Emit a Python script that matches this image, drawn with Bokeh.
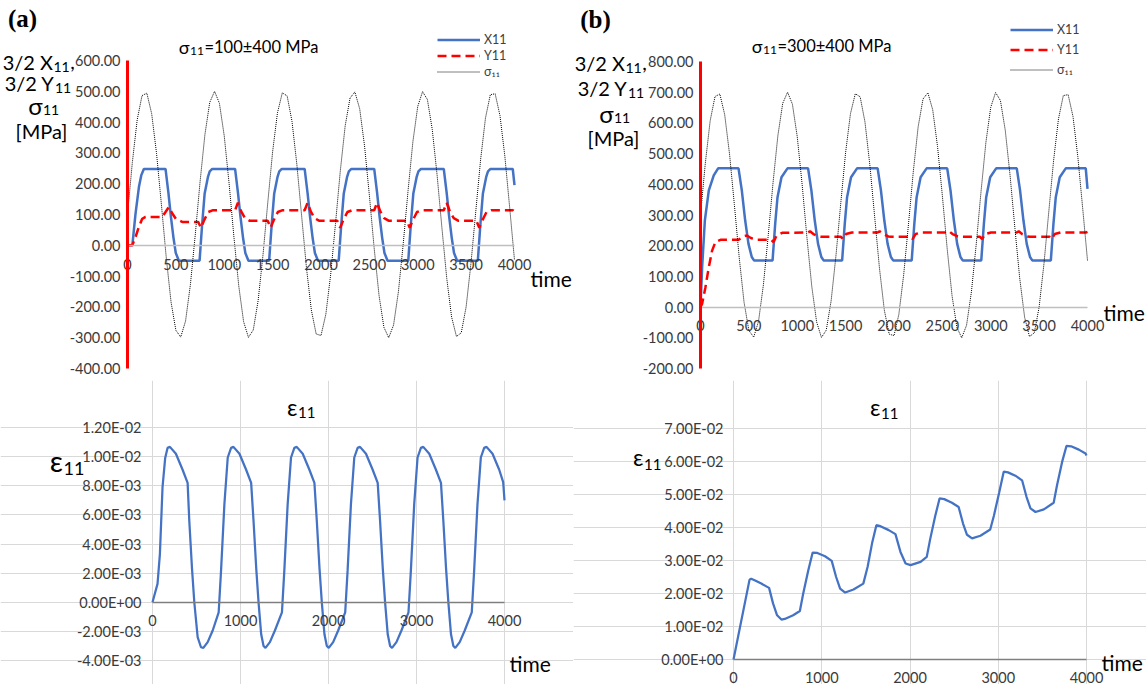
from bokeh.plotting import figure
from bokeh.models import (Range1d, FixedTicker, NumeralTickFormatter, CustomJSTickFormatter,
                          BasicTickFormatter, Label, Legend, LegendItem, Grid)
from bokeh.layouts import column, row
from bokeh.embed import file_html
from bokeh.resources import INLINE

FONT = "Lato"
BLUE = "#4472C4"
RED = "#FF0000"
TICK_COLOR = "#3a3a3a"
TICK_SIZE = "14.5px"

# ------------------------------------------------------------------ data
t_sigma = list(range(0, 4001, 50))
sigma_a = [100, 269, 407, 486, 494, 427, 299, 134, -38, -184,
           -276, -298, -246, -128, 33, 206, 359, 464, 500, 461,
           355, 201, 27, -132, -248, -299, -275, -180, -33, 139,
           304, 430, 495, 485, 403, 264, 95, -74, -210, -288,
           -293, -224, -95, 71, 243, 388, 478, 498, 443, 323,
           162, -11, -163, -266, -300, -259, -151, 5, 178, 337,
           451, 499, 473, 376, 228, 56, -108, -233, -296, -284,
           -200, -59, 111, 279, 413, 489, 492, 421, 290, 123, -48]
sigma_b = [300, 469, 607, 686, 694, 627, 499, 334, 162, 16,
           -76, -98, -46, 72, 233, 406, 559, 664, 700, 661,
           555, 401, 227, 68, -48, -99, -75, 20, 167, 339,
           504, 630, 695, 685, 603, 464, 295, 126, -10, -88,
           -93, -24, 105, 271, 443, 588, 678, 698, 643, 523,
           362, 189, 37, -66, -100, -59, 49, 205, 378, 537,
           651, 699, 673, 576, 428, 256, 92, -33, -96, -84,
           0, 141, 311, 479, 613, 689, 692, 621, 490, 323, 152]

t_x11_a = [0, 50, 83, 118, 142, 169,
           393, 423, 448, 475, 499, 531,
           745, 772, 797, 831, 850, 876,
           1112, 1142, 1167, 1194, 1218, 1250,
           1464, 1491, 1516, 1550, 1569, 1595,
           1831, 1861, 1886, 1913, 1937, 1969,
           2183, 2210, 2235, 2269, 2288, 2314,
           2550, 2580, 2605, 2632, 2656, 2688,
           2902, 2929, 2954, 2988, 3007, 3033,
           3269, 3299, 3324, 3351, 3375, 3407,
           3621, 3648, 3673, 3707, 3726, 3752,
           3982, 4000]
x11_a = [0, 0, 103, 189, 227, 248,
         248, 170, 95, 25, -25, -50,
         -50, 70, 167, 221, 240, 248,
         248, 170, 95, 25, -25, -50,
         -50, 70, 167, 221, 240, 248,
         248, 170, 95, 25, -25, -50,
         -50, 70, 167, 221, 240, 248,
         248, 170, 95, 25, -25, -50,
         -50, 70, 167, 221, 240, 248,
         248, 170, 95, 25, -25, -50,
         -50, 70, 167, 221, 240, 248,
         248, 195]

t_y11_a = [0, 50, 83, 117, 152, 186,
           358, 393, 427, 460, 500, 565,
           730, 760, 790, 835, 885,
           1112, 1141, 1175, 1215, 1260,
           1449, 1479, 1509, 1554, 1604,
           1831, 1861, 1894, 1934, 1979,
           2168, 2198, 2228, 2273, 2323,
           2550, 2580, 2613, 2653, 2698,
           2887, 2917, 2947, 2992, 3042,
           3269, 3299, 3332, 3372, 3417,
           3606, 3636, 3666, 3711, 3761,
           3982, 4000]
y11_a = [0, 0, 27, 59, 86, 92,
         92, 108, 124, 105, 86, 76,
         76, 57, 80, 108, 114,
         114, 138, 110, 88, 80,
         80, 57, 80, 108, 114,
         114, 138, 110, 88, 80,
         80, 57, 80, 108, 114,
         114, 138, 110, 88, 80,
         80, 57, 80, 108, 114,
         114, 138, 110, 88, 80,
         80, 57, 80, 108, 114,
         114, 132]

t_x11_b = [0, 17, 45, 86, 137, 182,
           393, 427, 462, 496, 530, 553,
           745, 772, 796, 837, 899,
           1112, 1146, 1181, 1215, 1249, 1272,
           1464, 1491, 1515, 1556, 1618,
           1831, 1865, 1900, 1934, 1968, 1991,
           2183, 2210, 2234, 2275, 2337,
           2550, 2584, 2619, 2653, 2687, 2710,
           2902, 2929, 2953, 2994, 3056,
           3269, 3303, 3338, 3372, 3406, 3429,
           3621, 3648, 3672, 3713, 3775,
           3982, 4000]
x11_b = [0, 130, 282, 380, 429, 452,
         452, 380, 282, 206, 163, 152,
         152, 271, 358, 423, 452,
         452, 380, 282, 206, 163, 152,
         152, 271, 358, 423, 452,
         452, 380, 282, 206, 163, 152,
         152, 271, 358, 423, 452,
         452, 380, 282, 206, 163, 152,
         152, 271, 358, 423, 452,
         452, 380, 282, 206, 163, 152,
         152, 271, 358, 423, 452,
         452, 385]

t_y11_b = [0, 17, 51, 86, 120, 154, 206,
           393, 440, 480, 520, 583,
           730, 755, 785, 845,
           1112, 1132, 1167, 1222, 1252,
           1449, 1474, 1504, 1564,
           1831, 1851, 1886, 1941, 1971,
           2168, 2193, 2223, 2283,
           2550, 2570, 2605, 2660, 2690,
           2887, 2912, 2942, 3002,
           3269, 3289, 3324, 3379, 3409,
           3606, 3631, 3661, 3721,
           3982, 4000]
y11_b = [0, 11, 65, 130, 184, 212, 219,
         219, 230, 233, 225, 219,
         219, 212, 232, 242,
         243, 247, 238, 230, 229,
         229, 222, 238, 243,
         243, 247, 238, 230, 229,
         229, 222, 238, 243,
         243, 247, 238, 230, 229,
         229, 222, 238, 243,
         243, 247, 238, 230, 229,
         229, 222, 238, 243,
         243, 245]

t_eps_a = [0, 57, 84, 114, 144, 171, 198, 266, 342, 399, 418, 448, 475, 513, 551, 578, 627, 684,
           752, 779, 817, 855, 893, 920, 988, 1064, 1121, 1148, 1178, 1205, 1235, 1262, 1284, 1334, 1391,
           1471, 1498, 1536, 1574, 1612, 1639, 1707, 1783, 1840, 1867, 1897, 1924, 1954, 1981, 2003, 2053, 2110,
           2190, 2217, 2255, 2293, 2331, 2358, 2426, 2502, 2559, 2586, 2616, 2643, 2673, 2700, 2722, 2772, 2829,
           2909, 2936, 2974, 3012, 3050, 3077, 3145, 3221, 3278, 3305, 3335, 3362, 3392, 3419, 3441, 3491, 3548,
           3628, 3655, 3693, 3731, 3769, 3796, 3864, 3940, 3985, 4000]
eps_a = [0, 0.00126, 0.0033, 0.0079, 0.0099, 0.0106, 0.01067, 0.0102, 0.0091, 0.0082, 0.0056, 0.0024, 0.0, -0.0024, -0.00309, -0.00313, -0.00274, -0.00194,
         -0.00069, 0.00217, 0.00674, 0.00994, 0.0106, 0.01067, 0.0102, 0.0091, 0.0082, 0.0056, 0.0024, 0.0, -0.0022, -0.0030, -0.00313, -0.00274, -0.00194,
         -0.00069, 0.00217, 0.00674, 0.00994, 0.0106, 0.01067, 0.0102, 0.0091, 0.0082, 0.0056, 0.0024, 0.0, -0.0022, -0.0030, -0.00313, -0.00274, -0.00194,
         -0.00069, 0.00217, 0.00674, 0.00994, 0.0106, 0.01067, 0.0102, 0.0091, 0.0082, 0.0056, 0.0024, 0.0, -0.0022, -0.0030, -0.00313, -0.00274, -0.00194,
         -0.00069, 0.00217, 0.00674, 0.00994, 0.0106, 0.01067, 0.0102, 0.0091, 0.0082, 0.0056, 0.0024, 0.0, -0.0022, -0.0030, -0.00313, -0.00274, -0.00194,
         -0.00069, 0.00217, 0.00674, 0.00994, 0.0106, 0.01067, 0.0102, 0.0091, 0.00825, 0.0070]

t_eps_b = [0, 182, 200, 239, 315, 403, 448, 494, 543, 581, 676,
           752, 790, 847, 897, 950, 1037, 1113, 1163, 1208, 1265, 1360,
           1471, 1520, 1570, 1619, 1665, 1759, 1835, 1892, 1950, 2006, 2120,
           2190, 2228, 2285, 2335, 2388, 2475, 2551, 2601, 2646, 2703, 2798,
           2909, 2950, 3010, 3062, 3110, 3194, 3270, 3320, 3365, 3422, 3517,
           3628, 3666, 3723, 3773, 3826, 3913, 3989, 4000]
eps_b = [0, 0.0242, 0.0245, 0.0240, 0.0230, 0.0217, 0.0170, 0.0134, 0.0121, 0.0123, 0.0134,
         0.0147, 0.0200, 0.0270, 0.0324, 0.0323, 0.0313, 0.0299, 0.0250, 0.0215, 0.0203, 0.0212,
         0.0230, 0.0281, 0.0352, 0.0407, 0.0404, 0.0392, 0.0380, 0.0326, 0.0291, 0.0286, 0.0296,
         0.0311, 0.0364, 0.0434, 0.0488, 0.0486, 0.0475, 0.0462, 0.0412, 0.0378, 0.0367, 0.0375,
         0.0394, 0.0435, 0.0505, 0.0569, 0.0567, 0.0557, 0.0543, 0.0493, 0.0458, 0.0447, 0.0455,
         0.0475, 0.0528, 0.0598, 0.0647, 0.0646, 0.0636, 0.0624, 0.0618]

top_x_ticks = [0, 500, 1000, 1500, 2000, 2500, 3000, 3500, 4000]
bot_x_ticks = [0, 1000, 2000, 3000, 4000]
top_a_y_ticks = [-400, -300, -200, -100, 0, 100, 200, 300, 400, 500, 600]
top_b_y_ticks = [-200, -100, 0, 100, 200, 300, 400, 500, 600, 700, 800]
bot_a_y_ticks = [-0.004, -0.002, 0.0, 0.002, 0.004, 0.006, 0.008, 0.010, 0.012]
bot_b_y_ticks = [0.0, 0.01, 0.02, 0.03, 0.04, 0.05, 0.06, 0.07]

EXP_FMT_CODE = """
const s = tick.toExponential(2).toUpperCase();
const parts = s.split("E");
const e = parts[1];
const sign = e[0];
let d = e.slice(1);
if (d.length < 2) { d = "0" + d; }
return parts[0] + "E" + sign + d;
"""


class Geo:
    """Maps figure pixels to data: the data box (x0..x1, y0..y1) occupies L..L+W, T..T+H."""
    def __init__(self, fw, fh, L, T, W, H, x0, x1, y0, y1):
        self.fw, self.fh = fw, fh
        self.L, self.T, self.W, self.H = L, T, W, H
        self.x0, self.x1, self.y0, self.y1 = x0, x1, y0, y1

    def dx(self, px):
        return self.x0 + (px - self.L) / self.W * (self.x1 - self.x0)

    def dy(self, py):
        return self.y1 - (py - self.T) / self.H * (self.y1 - self.y0)


def add_text(p, g, px, py, text, size, style="normal", family=FONT, color="black",
             align="center", baseline="middle"):
    if baseline == "alphabetic":
        py = py - 0.22 * size   # compensate the renderer's lower alphabetic placement
    p.add_layout(Label(x=g.dx(px), y=g.dy(py), text=text, text_font=family,
                       text_font_size=f"{size}px", text_font_style=style,
                       text_align=align, text_baseline=baseline, text_color=color))


def add_sub(p, g, ax, base, main, sub, size, sub_size, drop, after=None, after_size=None):
    """Main text ends at ax (baseline `base`), subscript starts at ax, lowered by `drop`."""
    add_text(p, g, ax, base, main, size, align="right", baseline="alphabetic")
    add_text(p, g, ax + 0.5, base + drop, sub, sub_size, align="left", baseline="alphabetic")
    if after:
        sub_w = 0.58 * sub_size * len(sub)
        add_text(p, g, ax + sub_w + 1, base, after, after_size or size,
                 align="left", baseline="alphabetic")


def base_fig(g):
    p = figure(width=g.fw, height=g.fh,
               x_range=Range1d(g.dx(0), g.dx(g.fw)), y_range=Range1d(g.dy(g.fh), g.dy(0)),
               output_backend="svg", toolbar_location=None,
               min_border=0, min_border_left=0, min_border_right=0,
               min_border_top=0, min_border_bottom=0)
    p.background_fill_color = "white"
    p.border_fill_color = "white"
    p.outline_line_color = None
    for gr in p.grid:
        gr.visible = False
    return p


def style_axis(ax, ticks, fmt, standoff, fixed, bounds, line_color=None, line_width=1):
    ax.fixed_location = fixed
    ax.bounds = bounds
    ax.ticker = FixedTicker(ticks=ticks)
    ax.formatter = fmt
    ax.axis_line_color = line_color
    ax.axis_line_width = line_width
    ax.major_tick_line_color = None
    ax.minor_tick_line_color = None
    ax.major_label_standoff = standoff
    ax.major_label_text_font = FONT
    ax.major_label_text_font_size = TICK_SIZE
    ax.major_label_text_color = TICK_COLOR


def top_panel(letter, letter_y, mean_txt, title_base, t_x, x11, t_y, y11, sig, ylo, yhi, yticks,
              top, leg_top, leg_spacing, ylab, time_base, xlab_standoff):
    g = Geo(573, 380, 127, top, 387, 368 - top, 0, 4000, ylo, yhi)
    p = base_fig(g)
    style_axis(p.xaxis[0], top_x_ticks, BasicTickFormatter(), xlab_standoff, 0, (0, 4000), "#BFBFBF", 1.5)
    rx = p.line(t_x, x11, line_color=BLUE, line_width=2.5)
    ry = p.line(t_y, y11, line_color=RED, line_width=2.5, line_dash="9 5")
    rs = p.line(t_sigma, sig, line_color="black", line_width=1, line_dash="1 1")
    style_axis(p.yaxis[0], yticks, NumeralTickFormatter(format="0.00"), 1, 0, (ylo, yhi), RED, 3)

    lh = 15
    leg_h = 3 * lh + 2 * leg_spacing
    legend = Legend(items=[LegendItem(label="X11", renderers=[rx]),
                           LegendItem(label="Y11", renderers=[ry]),
                           LegendItem(label="σ₁₁", renderers=[rs])],
                    location=(437, g.fh - leg_top - leg_h),
                    orientation="vertical", padding=0, margin=0, spacing=leg_spacing,
                    glyph_width=43, glyph_height=lh, label_height=lh, label_standoff=4,
                    label_text_font=FONT, label_text_font_size="12.5px", label_text_color="#404040",
                    border_line_alpha=0, background_fill_alpha=0)
    p.add_layout(legend)

    add_text(p, g, 22, letter_y, letter, 25, style="bold", family="Liberation Serif")
    # title  σ11=...
    add_sub(p, g, 189, title_base, "σ", "11", 18, 12, 3, after=mean_txt, after_size=16.5)
    # multi-line y label
    (xa, xb), (ya, yb), (sa, sb), (ma, mb) = ylab
    add_sub(p, g, xa, xb, "3/2 X", "11", 20, 14, 4, after=",", after_size=20)
    add_sub(p, g, ya, yb, "3/2 Y", "11", 20, 14, 4)
    add_sub(p, g, sa, sb, "σ", "11", 24, 14, 3)
    add_text(p, g, ma, mb, "[MPa]", 20, baseline="alphabetic")
    add_text(p, g, 530, time_base, "time", 21, align="left", baseline="alphabetic")
    return p


def grid_lines(p, xt, yt, xb, yb):
    p.add_layout(Grid(dimension=0, ticker=FixedTicker(ticks=xt), bounds=yb,
                      grid_line_color="#D9D9D9", grid_line_width=1))
    p.add_layout(Grid(dimension=1, ticker=FixedTicker(ticks=yt), bounds=xb,
                      grid_line_color="#D9D9D9", grid_line_width=1))


# ---------------- top (a)
pa = top_panel("(a)", 18, "=100±400  MPa", 50, t_x11_a, x11_a, t_y11_a, y11_a, sigma_a,
               -400, 600, top_a_y_ticks, 60, 32, 1,
               [(52.5, 65.5), (54, 87), (42, 110), (41, 135)], 283, 8)
# ---------------- top (b)
pb = top_panel("(b)", 19, "=300±400  MPa", 49, t_x11_b, x11_b, t_y11_b, y11_b, sigma_b,
               -200, 800, top_b_y_ticks, 61, 22, 5,
               [(51.5, 67), (54, 92), (40, 118), (40, 142)], 317, 7)

# ---------------- bottom (a)
ga = Geo(573, 304, 152, 47, 352, 233, 0, 4000, -0.004, 0.012)
qa = base_fig(ga)
grid_lines(qa, bot_x_ticks, bot_a_y_ticks, (0, 4000), (-0.004, 0.012))
style_axis(qa.xaxis[0], bot_x_ticks, BasicTickFormatter(), 7, 0, (0, 4000), "#7F7F7F", 1.5)
qa.line(t_eps_a, eps_a, line_color=BLUE, line_width=2.25)
style_axis(qa.yaxis[0], bot_a_y_ticks, CustomJSTickFormatter(code=EXP_FMT_CODE), 5, 0, (-0.004, 0.012))
add_sub(qa, ga, 297, 32, "ε", "11", 23, 15, 3)
add_sub(qa, ga, 62.5, 86, "ε", "11", 29, 18, 6)
add_text(qa, ga, 509, 288, "time", 21, align="left", baseline="alphabetic")

# ---------------- bottom (b)
gb = Geo(573, 304, 160, 48, 353, 231, 0, 4000, 0.0, 0.07)
qb = base_fig(gb)
grid_lines(qb, bot_x_ticks, bot_b_y_ticks, (0, 4000), (0.0, 0.07))
style_axis(qb.xaxis[0], bot_x_ticks, BasicTickFormatter(), 6, 0, (0, 4000), "#7F7F7F", 1.5)
qb.line(t_eps_b, eps_b, line_color=BLUE, line_width=2.25)
style_axis(qb.yaxis[0], bot_b_y_ticks, CustomJSTickFormatter(code=EXP_FMT_CODE), 4, 0, (0.0, 0.07))
add_sub(qb, gb, 307, 32, "ε", "11", 23, 15, 4)
add_sub(qb, gb, 70, 82, "ε", "11", 23, 15, 5)
add_text(qb, gb, 528, 287, "time", 21, align="left", baseline="alphabetic")

layout = column(row(pa, pb), row(qa, qb))
open("out.html", "w").write(file_html(layout, INLINE))
